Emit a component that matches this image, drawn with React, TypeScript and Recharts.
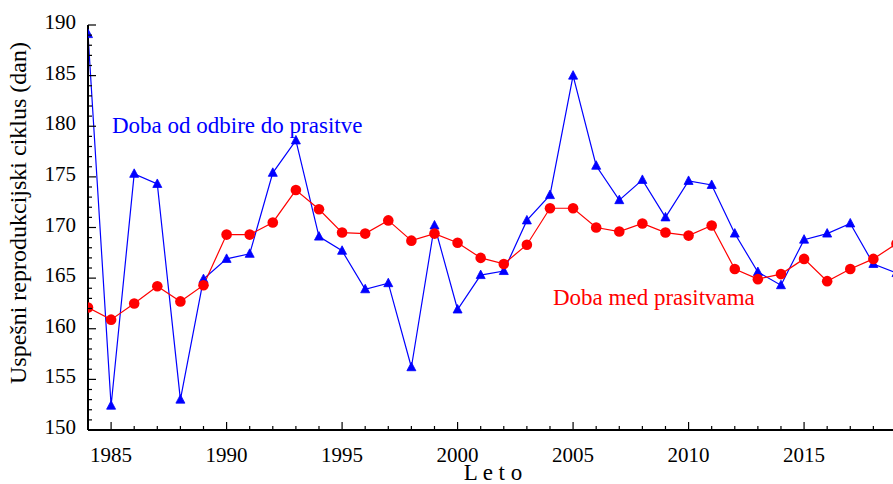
import React from "react";
import { LineChart, Line, XAxis, YAxis } from "recharts";

const years = [
  1984, 1985, 1986, 1987, 1988, 1989, 1990, 1991, 1992, 1993, 1994, 1995,
  1996, 1997, 1998, 1999, 2000, 2001, 2002, 2003, 2004, 2005, 2006, 2007,
  2008, 2009, 2010, 2011, 2012, 2013, 2014, 2015, 2016, 2017, 2018, 2019,
];

// Doba od odbire do prasitve (blue)
const odbiraPrasitev = [
  189.1, 152.4, 175.3, 174.3, 153.0, 164.9, 166.9, 167.4, 175.4, 178.6, 169.1, 167.7,
  163.9, 164.5, 156.2, 170.2, 161.9, 165.3, 165.7, 170.7, 173.2, 185.0, 176.1, 172.7,
  174.7, 171.0, 174.6, 174.2, 169.4, 165.6, 164.3, 168.8, 169.4, 170.4, 166.4, 165.5,
];

// Doba med prasitvama (red)
const medPrasitvama = [
  162.1, 160.9, 162.5, 164.2, 162.7, 164.3, 169.3, 169.3, 170.5, 173.7, 171.8, 169.5,
  169.4, 170.7, 168.7, 169.4, 168.5, 167.0, 166.4, 168.3, 171.9, 171.9, 170.0, 169.6,
  170.4, 169.5, 169.2, 170.2, 165.9, 164.9, 165.4, 166.9, 164.7, 165.9, 166.9, 168.4,
];

const xTicks = [
  1984, 1985, 1986, 1987, 1988, 1989, 1990, 1991, 1992, 1993, 1994, 1995, 1996,
  1997, 1998, 1999, 2000, 2001, 2002, 2003, 2004, 2005, 2006, 2007, 2008, 2009,
  2010, 2011, 2012, 2013, 2014, 2015, 2016, 2017, 2018,
];
const yTicks = [
  150, 151, 152, 153, 154, 155, 156, 157, 158, 159, 160, 161, 162, 163, 164, 165,
  166, 167, 168, 169, 170, 171, 172, 173, 174, 175, 176, 177, 178, 179, 180, 181,
  182, 183, 184, 185, 186, 187, 188, 189, 190,
];

const yTitle = "Uspešni reprodukcijski ciklus (dan)";
const xTitle = "L e t o";
const blueLabel = "Doba od odbire do prasitve";
const redLabel = "Doba med prasitvama";

const data = years.map((y, i) => ({
  year: y,
  blue: odbiraPrasitev[i],
  red: medPrasitvama[i],
}));

const FONT = "'Liberation Serif', 'DejaVu Serif', serif";

const XTick = (props: any) => {
  const { x, y, payload } = props;
  const v = payload.value as number;
  const major = v % 5 === 0;
  return (
    <g>
      <line x1={x} x2={x} y1={y} y2={y - (major ? 8 : 4)} stroke="#000" strokeWidth={1.2} />
      {major && (
        <text x={x} y={y + 32} textAnchor="middle" fontFamily={FONT} fontSize={21} fill="#000">
          {v}
        </text>
      )}
    </g>
  );
};

const YTick = (props: any) => {
  const { x, y, payload } = props;
  const v = payload.value as number;
  const major = v % 5 === 0;
  return (
    <g>
      <line x1={x} x2={x + (major ? 8 : 4)} y1={y} y2={y} stroke="#000" strokeWidth={1.2} />
      {major && (
        <text x={x - 12} y={y + 4} textAnchor="end" fontFamily={FONT} fontSize={21} fill="#000">
          {v}
        </text>
      )}
    </g>
  );
};

const Triangle = (props: any) => {
  const { cx, cy, index } = props;
  if (cx == null || cy == null) return <g key={`t-${index}`} />;
  return (
    <path
      key={`t-${index}`}
      d={`M${cx},${cy - 5} L${cx + 4.5},${cy + 3.5} L${cx - 4.5},${cy + 3.5} Z`}
      fill="#0000ff"
      stroke="#0000ff"
      strokeWidth={0.8}
    />
  );
};

const Circle = (props: any) => {
  const { cx, cy, index } = props;
  if (cx == null || cy == null) return <g key={`c-${index}`} />;
  return <circle key={`c-${index}`} cx={cx} cy={cy} r={5.3} fill="#ff0000" />;
};

export default function App() {
  return (
    <div style={{ position: "absolute", left: 0, top: 0, width: 893, height: 484, background: "#fff" }}>
      <LineChart
        width={893}
        height={484}
        data={data}
        margin={{ top: 25, right: 0, bottom: 53, left: 87 }}
      >
        <XAxis
          dataKey="year"
          type="number"
          domain={[1984, 2018.85]}
          allowDataOverflow
          ticks={xTicks}
          interval={0}
          height={1}
          tickSize={0}
          tickMargin={0}
          tick={<XTick />}
          tickLine={false}
          axisLine={{ stroke: "#000", strokeWidth: 2 }}
        />
        <YAxis
          type="number"
          domain={[150, 190]}
          allowDataOverflow
          ticks={yTicks}
          interval={0}
          width={1}
          tickSize={0}
          tickMargin={0}
          tick={<YTick />}
          tickLine={false}
          axisLine={{ stroke: "#000", strokeWidth: 2 }}
        />
        <Line
          dataKey="blue"
          stroke="#0000ff"
          strokeWidth={1.2}
          dot={Triangle}
          activeDot={false}
          isAnimationActive={false}
        />
        <Line
          dataKey="red"
          stroke="#ff0000"
          strokeWidth={1.2}
          dot={Circle}
          activeDot={false}
          isAnimationActive={false}
        />
      </LineChart>
      <svg
        width={893}
        height={484}
        style={{ position: "absolute", left: 0, top: 0, pointerEvents: "none" }}
      >
        <text
          transform="translate(26,213) rotate(-90)"
          textAnchor="middle"
          fontFamily={FONT}
          fontSize={24}
          fill="#000"
        >
          {yTitle}
        </text>
        <text x={493} y={480} textAnchor="middle" fontFamily={FONT} fontSize={23} fill="#000">
          {xTitle}
        </text>
        <text x={112} y={133} fontFamily={FONT} fontSize={23} fill="#0000ff">
          {blueLabel}
        </text>
        <text x={553} y={305} fontFamily={FONT} fontSize={23} fill="#ff0000">
          {redLabel}
        </text>
      </svg>
    </div>
  );
}
